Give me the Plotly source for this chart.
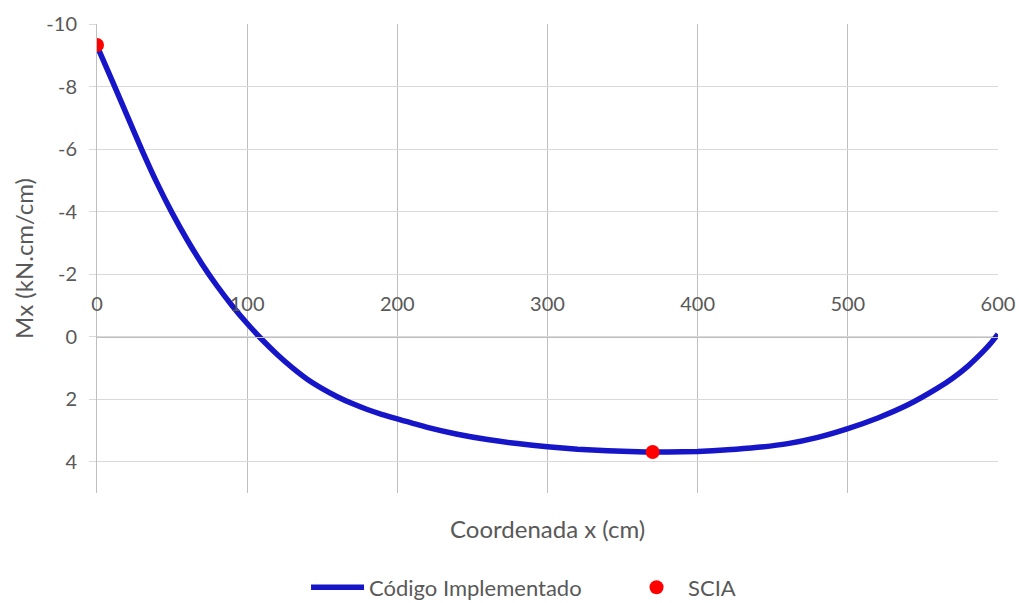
import plotly.graph_objects as go

# Bending moment along the strip: implemented code (curve) vs SCIA (points)
x_cm = [0, 10, 20, 30, 40, 50, 60, 70, 80, 90, 100, 110, 120, 130, 140, 150,
        160, 170, 180, 190, 200, 220, 240, 260, 280, 300, 320, 340, 360, 370,
        380, 400, 420, 440, 460, 480, 500, 520, 540, 560, 570, 580, 590, 595,
        600]
mx_codigo = [-9.30, -8.20, -7.08, -5.96, -4.91, -3.96, -3.10, -2.32, -1.62,
             -0.99, -0.42, 0.10, 0.57, 0.99, 1.36, 1.66, 1.92, 2.14, 2.33,
             2.49, 2.63, 2.90, 3.12, 3.29, 3.42, 3.52, 3.60, 3.65, 3.68, 3.69,
             3.69, 3.67, 3.62, 3.54, 3.42, 3.22, 2.94, 2.60, 2.18, 1.64, 1.32,
             0.94, 0.48, 0.22, -0.08]

x_scia = [0, 370]
mx_scia = [-9.33, 3.69]

y_ticks = [-10, -8, -6, -4, -2, 0, 2, 4]
y_tick_text = ["-10", "-8", "-6", "-4", "-2", "0", "2", "4"]
x_ticks = [0, 100, 200, 300, 400, 500, 600]

FONT = "Lato"
GREY = "#595959"

fig = go.Figure()
fig.add_trace(go.Scatter(
    x=x_cm, y=mx_codigo, mode="lines", name="Código Implementado",
    line=dict(color="#1616C8", width=5.5, shape="spline", smoothing=0.5),
))
fig.add_trace(go.Scatter(
    x=x_scia, y=mx_scia, mode="markers", name="SCIA",
    marker=dict(color="#FF0000", size=14),
))

# y = 0 lies one third up from the bottom of the reversed [5, -10] range
y_range = [5, -10]
zero_frac = (y_range[0] - 0) / (y_range[0] - y_range[1])

fig.update_layout(
    width=1019, height=603,
    margin=dict(l=97, r=21, t=24, b=110, autoexpand=False),
    paper_bgcolor="white", plot_bgcolor="white",
    font=dict(family=FONT, color=GREY, size=20),
    showlegend=True,
    legend=dict(orientation="h", x=0.232, xanchor="left", y=-0.2015,
                yanchor="middle", font=dict(size=22, color=GREY),
                itemwidth=53, entrywidth=251, entrywidthmode="pixels",
                traceorder="normal"),
    xaxis=dict(
        range=[0, 600], tickvals=x_ticks, side="top",
        anchor="free", position=zero_frac, automargin=False,
        showgrid=True, gridcolor="#BFBFBF", gridwidth=1,
        showline=True, linecolor="#BFBFBF", linewidth=1,
        zeroline=False, ticks="", ticklabelstandoff=18,
        tickfont=dict(size=20, color=GREY),
    ),
    yaxis=dict(
        range=y_range, tickvals=y_ticks, ticktext=y_tick_text,
        automargin=False,
        showgrid=True, gridcolor="#D9D9D9", gridwidth=1,
        showline=True, linecolor="#BFBFBF", linewidth=1,
        zeroline=False, ticks="outside", ticklen=7, tickcolor="#D9D9D9",
        ticklabelstandoff=8,
        tickfont=dict(size=20, color=GREY),
        title=dict(text="Mx (kN.cm/cm)", font=dict(size=24, color=GREY),
                   standoff=5),
    ),
    annotations=[dict(
        text="Coordenada x (cm)", xref="paper", yref="paper",
        x=0.5, y=-0.075, xanchor="center", yanchor="middle",
        showarrow=False, font=dict(size=24, color=GREY),
    )],
)

fig.write_html("out.html")
